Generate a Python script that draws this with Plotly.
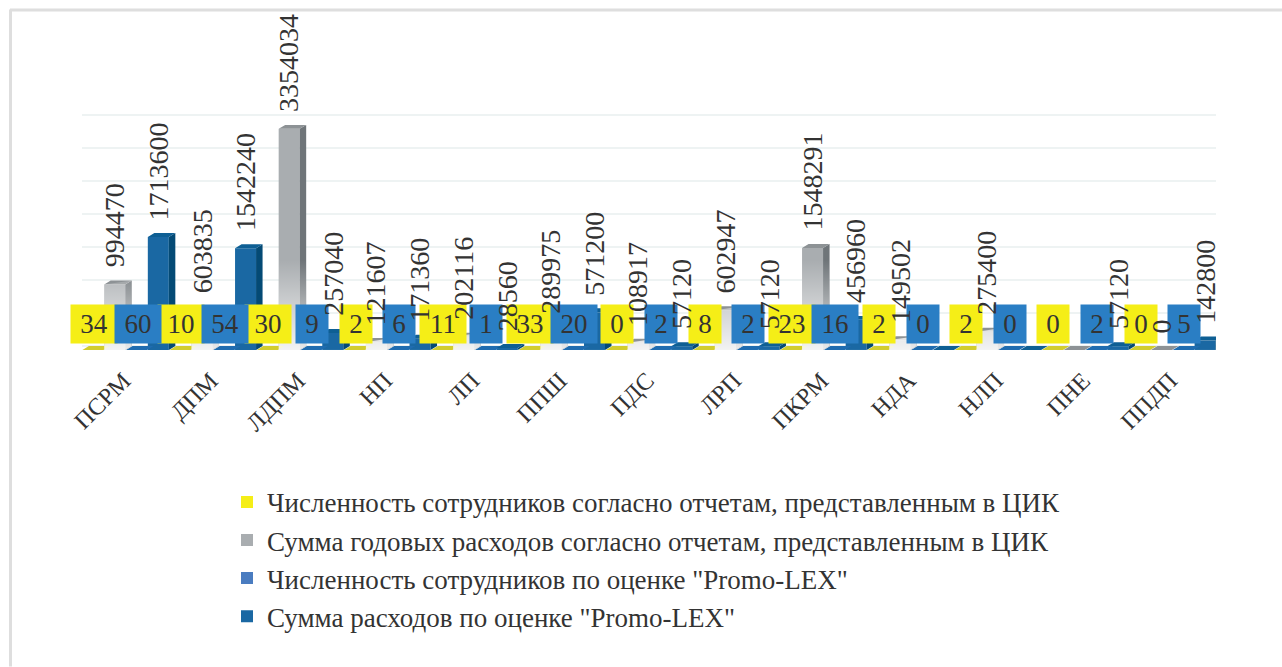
import plotly.graph_objects as go

categories = ["ПСРМ", "ДПМ", "ЛДПМ", "НП", "ЛП", "ППШ", "ПДС", "ЛРП", "ПКРМ", "НДА", "НЛП", "ПНЕ", "ППДП"]
cec_staff = [34, 10, 30, 2, 11, 33, 0, 8, 23, 2, 2, 0, 0]
cec_sum = [994470, 603835, 3354034, 121607, 202116, 289975, 108917, 602947, 1548291, 149502, 275400, 0, 0]
promo_staff = [60, 54, 9, 6, 1, 20, 2, 2, 16, 0, 0, 2, 5]
promo_sum = [1713600, 1542240, 257040, 171360, 28560, 571200, 57120, 57120, 456960, 0, 0, 57120, 142800]
names = [
    "Численность сотрудников согласно отчетам, представленным в ЦИК",
    "Сумма годовых расходов согласно отчетам, представленным в ЦИК",
    'Численность сотрудников по оценке "Promo-LEX"',
    'Сумма расходов по оценке "Promo-LEX"',
]

# layout in pixels
W, H = 1282, 667
PX_PER_UNIT = 33 / 500000
YMAX = 3550000
L, R, T, B = 82, 1216, 346 - YMAX * PX_PER_UNIT, 352
FONT = "Liberation Serif"
TEXT = "#333333"
x_ind = list(range(len(categories)))
bar_w = 21 / 87.2
dx, depth = 6.5 / 87.2, 60000   # 3D depth of bars (x units, y units)
offsets = [-0.375, -0.125, 0.125, 0.375]
ylow = -(B - 346) / PX_PER_UNIT

styles = [
    dict(front="#f5ee17", side="#c4bf24", top="#d2cd2e"),
    dict(front="#a9adb0", side="#6f7579", top="#8d9295"),
    dict(front="#4a7cc0", side="#14508a", top="#1f6cb0"),
    dict(front="#1a68a3", side="#044a75", top="#0e5f94"),
]
series = [cec_staff, cec_sum, promo_staff, promo_sum]

fig = go.Figure()

for vals, off, st, nm in zip(series, offsets, styles, names):
    xs = [i + off for i in x_ind]
    fig.add_trace(go.Bar(x=xs, y=vals, base=-depth, width=bar_w, name=nm, legendgroup=nm,
                         marker=dict(color=st["front"], line=dict(width=0)), hoverinfo="skip"))

for vals, off, st in zip(series, offsets, styles):
    sx, sy, tx, ty = [], [], [], []
    for i, v in zip(x_ind, vals):
        xl, xr = i + off - bar_w / 2, i + off + bar_w / 2
        sx += [xr, xr + dx, xr + dx, xr, xr, None]
        sy += [-depth, 0, v, v - depth, -depth, None]
        tx += [xl, xr, xr + dx, xl + dx, xl, None]
        ty += [v - depth, v - depth, v, v, v - depth, None]
    for px_, py_, c in ((sx, sy, st["side"]), (tx, ty, st["top"])):
        fig.add_trace(go.Scatter(x=px_, y=py_, mode="lines", fill="toself", fillcolor=c,
                                 line=dict(width=0, color=c), showlegend=False, hoverinfo="skip"))

# fade to white at the foot of the grey bars
fx, fy = [], []
for i, v in zip(x_ind, cec_sum):
    if v <= 0:
        continue
    xl, xr = i + offsets[1] - bar_w / 2, i + offsets[1] + bar_w / 2
    fx += [xl, xr, xr + dx, xr + dx, xl, xl, None]
    fy += [-depth, -depth, 0, v, v - depth, -depth, None]
fig.add_trace(go.Scatter(x=fx, y=fy, mode="lines", line=dict(width=0), showlegend=False, hoverinfo="skip",
                         fill="toself",
                         fillgradient=dict(type="vertical", start=-depth, stop=1300000,
                                           colorscale=[[0, "rgba(255,255,255,0.85)"], [1, "rgba(255,255,255,0)"]])))

annotations = []
BOX_Y = (346 - 324) / PX_PER_UNIT
for vals, off, color in ((cec_staff, offsets[0], "#f5ee17"), (promo_staff, offsets[2], "#2a7ec4")):
    for i, v in zip(x_ind, vals):
        annotations.append(dict(x=i + off, y=BOX_Y, text=str(v), showarrow=False, bgcolor=color,
                                width=46 if v >= 10 else 32, height=38, borderpad=0, yanchor="middle",
                                xshift=1, font=dict(family=FONT, size=27, color=TEXT)))
last = len(categories) - 1
for vals, off, is_cec in ((cec_sum, offsets[1], True), (promo_sum, offsets[3], False)):
    for i, v in zip(x_ind, vals):
        # zero sums have no visible label in the reference, except the last party's first series
        if v == 0 and not (is_cec and i == last):
            continue
        annotations.append(dict(x=i + off, y=v, text=str(v), showarrow=False, textangle=-90,
                                xanchor="center", yanchor="bottom", yshift=11,
                                font=dict(family=FONT, size=28, color=TEXT)))

def px_x(p):
    return (p - L) / (R - L)

def px_y(p):
    return (B - p) / (B - T)

frame = dict(color="#dedede", width=3)
fig.update_layout(
    width=W, height=H, margin=dict(l=L, r=W - R, t=T, b=H - B),
    paper_bgcolor="white", plot_bgcolor="white",
    barmode="overlay",
    annotations=annotations,
    xaxis=dict(range=[-0.5, 12.5], tickmode="array", tickvals=x_ind, ticktext=categories, tickangle=-45,
               showgrid=False, zeroline=False, showline=False, ticks="outside", ticklen=4,
               ticklabelshift=-2,
               tickcolor="rgba(0,0,0,0)", tickfont=dict(family=FONT, size=24, color=TEXT)),
    yaxis=dict(range=[ylow, YMAX], dtick=500000, showticklabels=False, showgrid=True,
               gridcolor="#eef3f3", gridwidth=2, zeroline=False, showline=False),
    showlegend=True,
    legend=dict(x=px_x(227), y=px_y(478), xanchor="left", yanchor="top",
                traceorder="grouped", tracegroupgap=0, bgcolor="rgba(0,0,0,0)",
                font=dict(family=FONT, size=27, color=TEXT)),
    shapes=[
        dict(type="line", xref="paper", yref="paper", layer="below",
             x0=px_x(10), x1=px_x(1282), y0=px_y(9.5), y1=px_y(9.5), line=frame),
        dict(type="line", xref="paper", yref="paper", layer="below",
             x0=px_x(10.5), x1=px_x(10.5), y0=px_y(9), y1=px_y(667), line=frame),
    ],
)

fig.write_html("out.html", config={"displayModeBar": False},
               post_script="document.body.style.margin='0';document.body.style.overflow='hidden';")
